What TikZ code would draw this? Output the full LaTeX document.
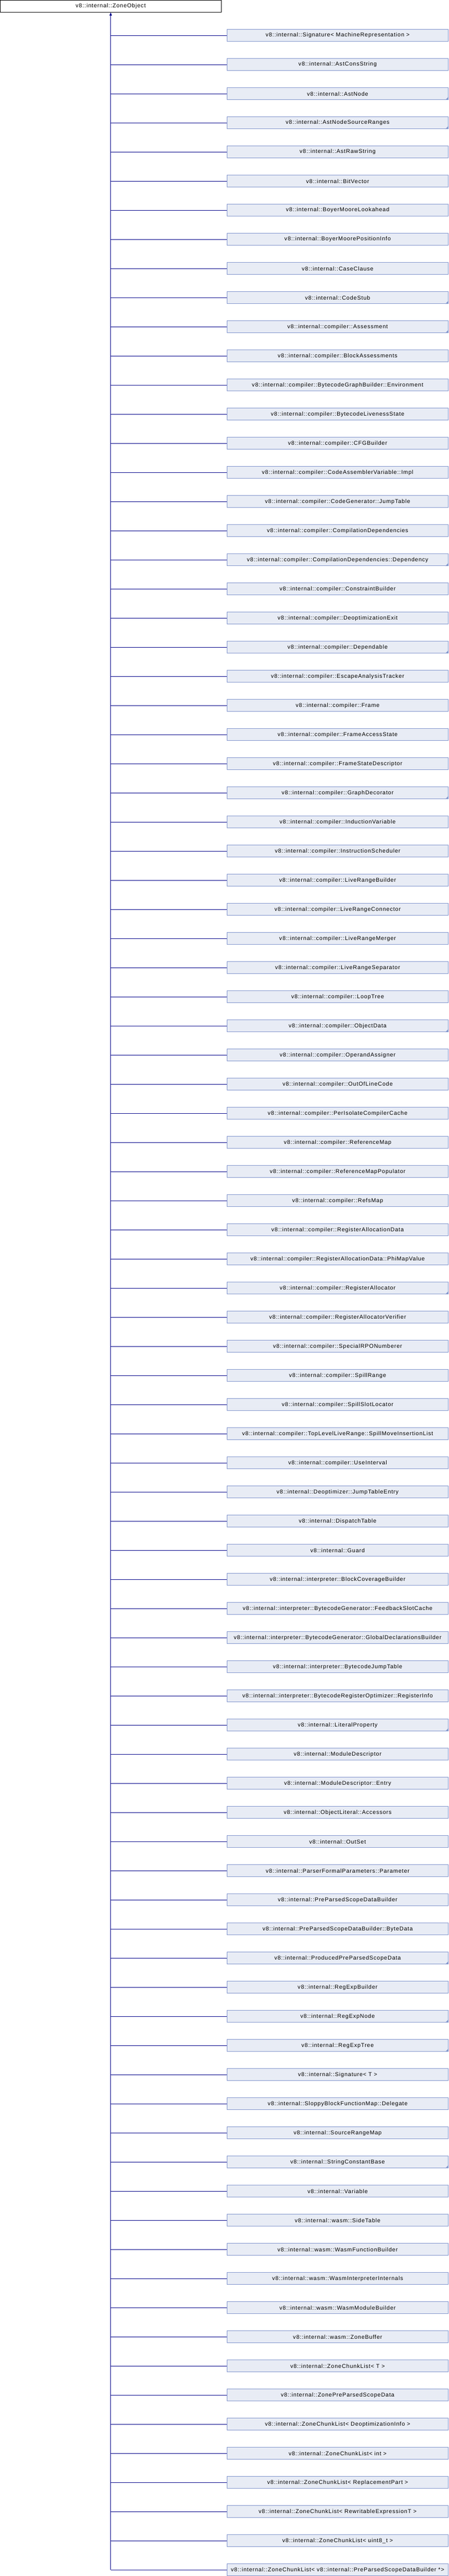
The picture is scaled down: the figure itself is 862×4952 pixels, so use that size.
\documentclass[tikz,border=0pt]{standalone}
\usepackage{fontspec}
\newfontfamily\dox[LetterSpace=8]{Liberation Sans}
\usetikzlibrary{arrows.meta}
\definecolor{boxfill}{RGB}{232,236,245}
\definecolor{boxline}{RGB}{128,148,204}
\definecolor{cornercol}{RGB}{130,150,205}
\definecolor{edgecol}{RGB}{0,0,136}
\tikzset{
  rootbox/.style={draw=black, fill=white, line width=1pt, minimum width=424.5pt, minimum height=22.8pt, inner sep=0pt, font=\dox\fontsize{10.8}{12}\selectfont},
  childbox/.style={draw=boxline, fill=boxfill, line width=1pt, minimum width=425.2pt, minimum height=22.6pt, inner sep=0pt, font=\dox\fontsize{10.8}{12}\selectfont},
  conn/.style={draw=edgecol, line width=1pt},
  corner/.style={fill=cornercol}
}
\begin{document}
\begin{tikzpicture}[x=1pt,y=-1pt]
\useasboundingbox (0,0) rectangle (862,4952);
\node[rootbox] (root) at (212.75,11.9) {v8::internal::ZoneObject};
\foreach \t/\f [count=\i] in {
v8::internal::Signature< MachineRepresentation >/0,
v8::internal::AstConsString/0,
v8::internal::AstNode/1,
v8::internal::AstNodeSourceRanges/1,
v8::internal::AstRawString/0,
v8::internal::BitVector/0,
v8::internal::BoyerMooreLookahead/0,
v8::internal::BoyerMoorePositionInfo/0,
v8::internal::CaseClause/0,
v8::internal::CodeStub/1,
v8::internal::compiler::Assessment/1,
v8::internal::compiler::BlockAssessments/0,
v8::internal::compiler::BytecodeGraphBuilder::Environment/0,
v8::internal::compiler::BytecodeLivenessState/0,
v8::internal::compiler::CFGBuilder/0,
v8::internal::compiler::CodeAssemblerVariable::Impl/0,
v8::internal::compiler::CodeGenerator::JumpTable/0,
v8::internal::compiler::CompilationDependencies/0,
v8::internal::compiler::CompilationDependencies::Dependency/1,
v8::internal::compiler::ConstraintBuilder/0,
v8::internal::compiler::DeoptimizationExit/0,
v8::internal::compiler::Dependable/1,
v8::internal::compiler::EscapeAnalysisTracker/0,
v8::internal::compiler::Frame/0,
v8::internal::compiler::FrameAccessState/0,
v8::internal::compiler::FrameStateDescriptor/0,
v8::internal::compiler::GraphDecorator/1,
v8::internal::compiler::InductionVariable/0,
v8::internal::compiler::InstructionScheduler/0,
v8::internal::compiler::LiveRangeBuilder/0,
v8::internal::compiler::LiveRangeConnector/0,
v8::internal::compiler::LiveRangeMerger/0,
v8::internal::compiler::LiveRangeSeparator/0,
v8::internal::compiler::LoopTree/0,
v8::internal::compiler::ObjectData/1,
v8::internal::compiler::OperandAssigner/0,
v8::internal::compiler::OutOfLineCode/0,
v8::internal::compiler::PerIsolateCompilerCache/0,
v8::internal::compiler::ReferenceMap/0,
v8::internal::compiler::ReferenceMapPopulator/0,
v8::internal::compiler::RefsMap/0,
v8::internal::compiler::RegisterAllocationData/0,
v8::internal::compiler::RegisterAllocationData::PhiMapValue/0,
v8::internal::compiler::RegisterAllocator/1,
v8::internal::compiler::RegisterAllocatorVerifier/0,
v8::internal::compiler::SpecialRPONumberer/0,
v8::internal::compiler::SpillRange/0,
v8::internal::compiler::SpillSlotLocator/0,
v8::internal::compiler::TopLevelLiveRange::SpillMoveInsertionList/0,
v8::internal::compiler::UseInterval/0,
v8::internal::Deoptimizer::JumpTableEntry/0,
v8::internal::DispatchTable/0,
v8::internal::Guard/0,
v8::internal::interpreter::BlockCoverageBuilder/0,
v8::internal::interpreter::BytecodeGenerator::FeedbackSlotCache/0,
v8::internal::interpreter::BytecodeGenerator::GlobalDeclarationsBuilder/0,
v8::internal::interpreter::BytecodeJumpTable/0,
v8::internal::interpreter::BytecodeRegisterOptimizer::RegisterInfo/0,
v8::internal::LiteralProperty/1,
v8::internal::ModuleDescriptor/0,
v8::internal::ModuleDescriptor::Entry/0,
v8::internal::ObjectLiteral::Accessors/0,
v8::internal::OutSet/0,
v8::internal::ParserFormalParameters::Parameter/0,
v8::internal::PreParsedScopeDataBuilder/0,
v8::internal::PreParsedScopeDataBuilder::ByteData/0,
v8::internal::ProducedPreParsedScopeData/1,
v8::internal::RegExpBuilder/0,
v8::internal::RegExpNode/1,
v8::internal::RegExpTree/1,
v8::internal::Signature< T >/0,
v8::internal::SloppyBlockFunctionMap::Delegate/0,
v8::internal::SourceRangeMap/0,
v8::internal::StringConstantBase/1,
v8::internal::Variable/0,
v8::internal::wasm::SideTable/0,
v8::internal::wasm::WasmFunctionBuilder/0,
v8::internal::wasm::WasmInterpreterInternals/0,
v8::internal::wasm::WasmModuleBuilder/0,
v8::internal::wasm::ZoneBuffer/0,
v8::internal::ZoneChunkList< T >/0,
v8::internal::ZonePreParsedScopeData/0,
v8::internal::ZoneChunkList< DeoptimizationInfo >/0,
v8::internal::ZoneChunkList< int >/0,
v8::internal::ZoneChunkList< ReplacementPart >/0,
v8::internal::ZoneChunkList< RewritableExpressionT >/0,
v8::internal::ZoneChunkList< uint8\_t >/0,
v8::internal::ZoneChunkList< v8::internal::PreParsedScopeDataBuilder *>/0}
{
  \pgfmathsetmacro\yy{68.2+56*(\i-1)}
  \node[childbox] (c\i) at (648.9,\yy) {\t};
  \coordinate (j\i) at (212.75,\yy);
  \draw[conn] (j\i) -- (c\i.west);
  \ifnum\f=1
    \fill[corner] (c\i.south east) -- ([xshift=-6pt]c\i.south east) -- ([yshift=6pt]c\i.south east) -- cycle;
  \fi
}
\draw[conn, -{Triangle[width=4.5pt,length=6pt]}] (j88) -- (root.south);
\end{tikzpicture}
\end{document}
